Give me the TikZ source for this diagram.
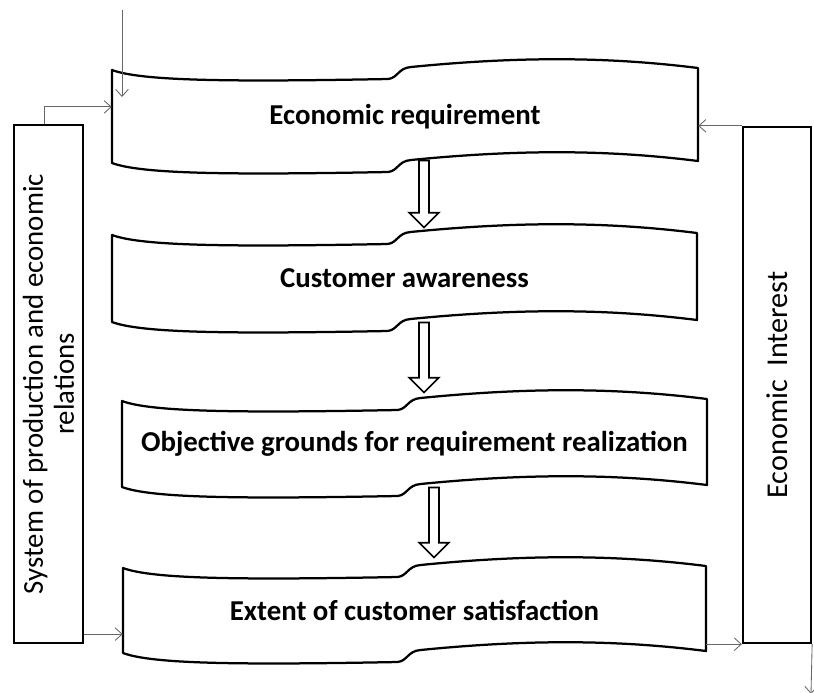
\documentclass[tikz,border=0pt]{standalone}
\usepackage{fontspec}
\setmainfont{Carlito}
\usetikzlibrary{shapes.arrows,arrows.meta}

\begin{document}
\begin{tikzpicture}
[x=0.025cm, y=-0.025cm,
 bannerline/.style={line width=1.6pt, fill=white, line join=round},
 bannertext/.style={font=\bfseries\fontsize{20.5}{24}\selectfont, inner sep=0pt},
 sidebox/.style={rectangle, draw=black, line width=1.6pt, rotate=90, align=center, font=\fontsize{20.5}{22}\selectfont},
 thinarrow/.style={draw=black!60, line width=0.6pt, -{Straight Barb[length=5pt, width=9pt]}},
 flowarrow/.style={single arrow, draw=black, line width=1.2pt, shape border rotate=270, inner sep=2.9pt, single arrow head extend=7pt, single arrow tip angle=90, minimum height=1.75cm}]
\useasboundingbox (0,0) rectangle (814,692);

% wavy boxes
\foreach \nm/\bl/\br/\bt/\bh/\txt in {
  econreq/112/698/70/93/Economic requirement,
  aware/112/697/235/87/Customer awareness,
  grounds/122/707/401/86/Objective grounds for requirement realization,
  satisf/123/706/568/85/Extent of customer satisfaction}{
  \pgfmathsetmacro\bw{\br-\bl}
  \pgfmathsetmacro\bm{\bl+0.5*\bw}
  \draw[bannerline] (\bl,\bt)
    .. controls ({\bl+0.05*\bw},{\bt+11}) and ({\bm-0.3*\bw},{\bt+12}) .. ({\bm-17},{\bt+9})
    .. controls ({\bm-7},{\bt+8}) and ({\bm-7},{\bt-2}) .. ({\bm+6},{\bt-3})
    .. controls ({\bm+0.2*\bw},{\bt-14}) and ({\br-0.15*\bw},{\bt-13}) .. (\br,{\bt-2})
    -- (\br,{\bt-2+\bh})
    .. controls ({\br-0.15*\bw},{\bt-13+\bh}) and ({\bm+0.2*\bw},{\bt-14+\bh}) .. ({\bm+6},{\bt-3+\bh})
    .. controls ({\bm-7},{\bt-2+\bh}) and ({\bm-7},{\bt+8+\bh}) .. ({\bm-17},{\bt+9+\bh})
    .. controls ({\bm-0.3*\bw},{\bt+12+\bh}) and ({\bl+0.05*\bw},{\bt+11+\bh}) .. (\bl,{\bt+\bh})
    -- cycle;
  \node[bannertext, minimum width=\bw*0.025cm, minimum height=\bh*0.025cm] (\nm) at (\bm,{\bt+\bh/2}) {\txt};
}

% side boxes
\node[sidebox, minimum width=12.95cm, minimum height=1.725cm] (sysbox) at (48.5,384) {System of production and economic\\relations};
\node[sidebox, minimum width=12.9cm, minimum height=1.7cm, font=\fontsize{21.5}{24}\selectfont] (intbox) at (777,385) {Economic~ Interest};

% hollow arrows
\node[flowarrow, minimum height=1.675cm] (flow1) at (424,191.5) {};
\node[flowarrow] (flow2) at (424,355) {};
\node[flowarrow] (flow3) at (434,520) {};

% thin connectors
\coordinate (topin) at (122,10);
\coordinate (topend) at (122,97);
\coordinate (outend) at (811,694);
\draw[thinarrow] (topin) -- (topend);
\draw[thinarrow] ([xshift=-0.11cm]sysbox.east) |- ([yshift=0.24cm]econreq.west);
\draw[thinarrow] ([yshift=-0.59cm]satisf.west -| sysbox.south) -- ([yshift=-0.59cm]satisf.west);
\draw[thinarrow] (intbox.north east) -- (econreq.east |- intbox.north east);
\draw[thinarrow] (satisf.east |- intbox.north west) -- (intbox.north west);
\draw[thinarrow] (intbox.south west) -- (outend);
\end{tikzpicture}
\end{document}
